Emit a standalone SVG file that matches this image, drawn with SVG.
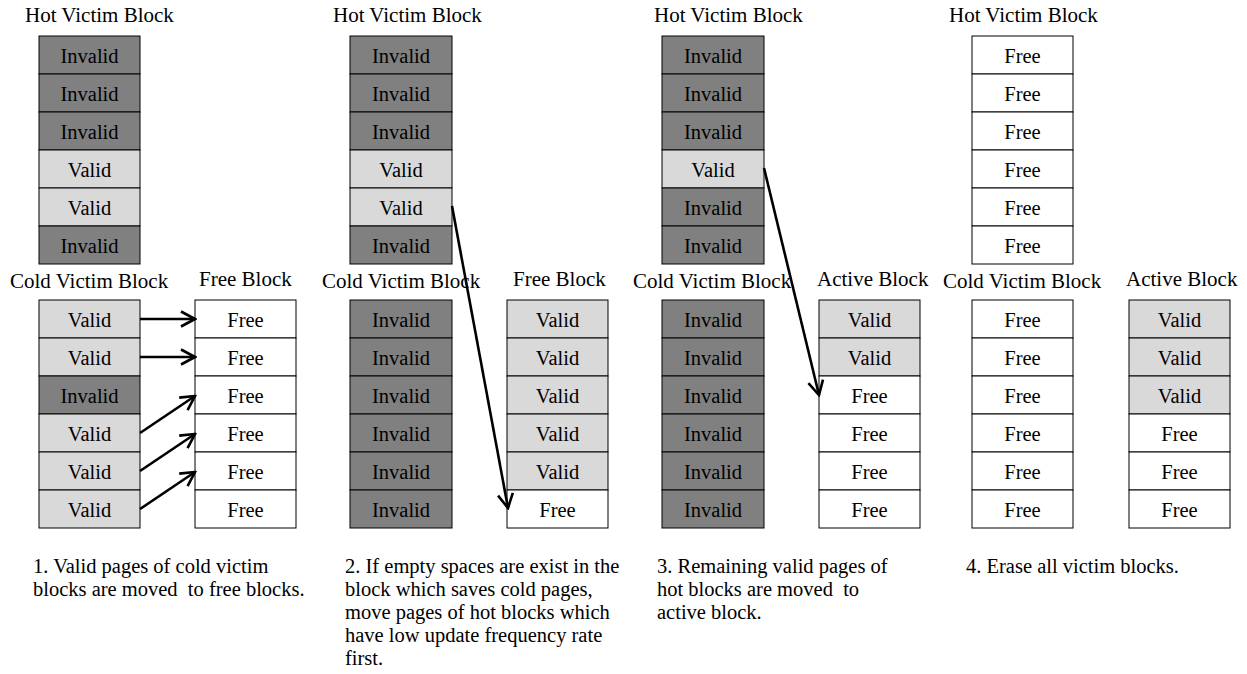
<svg xmlns="http://www.w3.org/2000/svg" width="1247" height="674" viewBox="0 0 1247 674">
<style>
  text { font-family: "Liberation Serif", "Times New Roman", serif; fill: #000; }
  .t { font-size: 21px; }
  .c { font-size: 20.5px; text-anchor: middle; }
  .p { font-size: 20.5px; white-space: pre; }
  .cell { stroke: #000; stroke-width: 1; }
  .inv { fill: #808080; }
  .val { fill: #d9d9d9; }
  .free { fill: #ffffff; }
  .arrow { stroke: #000; stroke-width: 2.6; fill: none; marker-end: url(#head); }
</style>
<defs>
  <marker id="head" viewBox="0 0 18 18" refX="16" refY="9" markerWidth="18" markerHeight="18" markerUnits="userSpaceOnUse" orient="auto">
    <path d="M2,1.5 L16,9 L2,16.5" fill="none" stroke="#000" stroke-width="2.6" stroke-linejoin="miter"/>
  </marker>
</defs>
<rect x="0" y="0" width="1247" height="674" fill="#fff"/>

<!-- Panel 1 -->
<g id="p1-hot">
  <text class="t" x="25" y="22">Hot Victim Block</text>
  <rect class="cell inv" x="39" y="36" width="101" height="38"/><text class="c" x="89.5" y="62.5">Invalid</text>
  <rect class="cell inv" x="39" y="74" width="101" height="38"/><text class="c" x="89.5" y="100.5">Invalid</text>
  <rect class="cell inv" x="39" y="112" width="101" height="38"/><text class="c" x="89.5" y="138.5">Invalid</text>
  <rect class="cell val" x="39" y="150" width="101" height="38"/><text class="c" x="89.5" y="176.5">Valid</text>
  <rect class="cell val" x="39" y="188" width="101" height="38"/><text class="c" x="89.5" y="214.5">Valid</text>
  <rect class="cell inv" x="39" y="226" width="101" height="38"/><text class="c" x="89.5" y="252.5">Invalid</text>
</g>
<g id="p1-cold">
  <text class="t" x="10" y="288">Cold Victim Block</text>
  <rect class="cell val" x="39" y="300" width="101" height="38"/><text class="c" x="89.5" y="326.5">Valid</text>
  <rect class="cell val" x="39" y="338" width="101" height="38"/><text class="c" x="89.5" y="364.5">Valid</text>
  <rect class="cell inv" x="39" y="376" width="101" height="38"/><text class="c" x="89.5" y="402.5">Invalid</text>
  <rect class="cell val" x="39" y="414" width="101" height="38"/><text class="c" x="89.5" y="440.5">Valid</text>
  <rect class="cell val" x="39" y="452" width="101" height="38"/><text class="c" x="89.5" y="478.5">Valid</text>
  <rect class="cell val" x="39" y="490" width="101" height="38"/><text class="c" x="89.5" y="516.5">Valid</text>
</g>
<g id="p1-free">
  <text class="t" x="199" y="286">Free Block</text>
  <rect class="cell free" x="195" y="300" width="101" height="38"/><text class="c" x="245.5" y="326.5">Free</text>
  <rect class="cell free" x="195" y="338" width="101" height="38"/><text class="c" x="245.5" y="364.5">Free</text>
  <rect class="cell free" x="195" y="376" width="101" height="38"/><text class="c" x="245.5" y="402.5">Free</text>
  <rect class="cell free" x="195" y="414" width="101" height="38"/><text class="c" x="245.5" y="440.5">Free</text>
  <rect class="cell free" x="195" y="452" width="101" height="38"/><text class="c" x="245.5" y="478.5">Free</text>
  <rect class="cell free" x="195" y="490" width="101" height="38"/><text class="c" x="245.5" y="516.5">Free</text>
</g>

<!-- Panel 2 -->
<g id="p2-hot">
  <text class="t" x="333" y="22">Hot Victim Block</text>
  <rect class="cell inv" x="350" y="36" width="102" height="38"/><text class="c" x="401" y="62.5">Invalid</text>
  <rect class="cell inv" x="350" y="74" width="102" height="38"/><text class="c" x="401" y="100.5">Invalid</text>
  <rect class="cell inv" x="350" y="112" width="102" height="38"/><text class="c" x="401" y="138.5">Invalid</text>
  <rect class="cell val" x="350" y="150" width="102" height="38"/><text class="c" x="401" y="176.5">Valid</text>
  <rect class="cell val" x="350" y="188" width="102" height="38"/><text class="c" x="401" y="214.5">Valid</text>
  <rect class="cell inv" x="350" y="226" width="102" height="38"/><text class="c" x="401" y="252.5">Invalid</text>
</g>
<g id="p2-cold">
  <text class="t" x="322" y="288">Cold Victim Block</text>
  <rect class="cell inv" x="350" y="300" width="102" height="38"/><text class="c" x="401" y="326.5">Invalid</text>
  <rect class="cell inv" x="350" y="338" width="102" height="38"/><text class="c" x="401" y="364.5">Invalid</text>
  <rect class="cell inv" x="350" y="376" width="102" height="38"/><text class="c" x="401" y="402.5">Invalid</text>
  <rect class="cell inv" x="350" y="414" width="102" height="38"/><text class="c" x="401" y="440.5">Invalid</text>
  <rect class="cell inv" x="350" y="452" width="102" height="38"/><text class="c" x="401" y="478.5">Invalid</text>
  <rect class="cell inv" x="350" y="490" width="102" height="38"/><text class="c" x="401" y="516.5">Invalid</text>
</g>
<g id="p2-free">
  <text class="t" x="513" y="286">Free Block</text>
  <rect class="cell val" x="507" y="300" width="101" height="38"/><text class="c" x="557.5" y="326.5">Valid</text>
  <rect class="cell val" x="507" y="338" width="101" height="38"/><text class="c" x="557.5" y="364.5">Valid</text>
  <rect class="cell val" x="507" y="376" width="101" height="38"/><text class="c" x="557.5" y="402.5">Valid</text>
  <rect class="cell val" x="507" y="414" width="101" height="38"/><text class="c" x="557.5" y="440.5">Valid</text>
  <rect class="cell val" x="507" y="452" width="101" height="38"/><text class="c" x="557.5" y="478.5">Valid</text>
  <rect class="cell free" x="507" y="490" width="101" height="38"/><text class="c" x="557.5" y="516.5">Free</text>
</g>

<!-- Panel 3 -->
<g id="p3-hot">
  <text class="t" x="654" y="22">Hot Victim Block</text>
  <rect class="cell inv" x="662" y="36" width="102" height="38"/><text class="c" x="713" y="62.5">Invalid</text>
  <rect class="cell inv" x="662" y="74" width="102" height="38"/><text class="c" x="713" y="100.5">Invalid</text>
  <rect class="cell inv" x="662" y="112" width="102" height="38"/><text class="c" x="713" y="138.5">Invalid</text>
  <rect class="cell val" x="662" y="150" width="102" height="38"/><text class="c" x="713" y="176.5">Valid</text>
  <rect class="cell inv" x="662" y="188" width="102" height="38"/><text class="c" x="713" y="214.5">Invalid</text>
  <rect class="cell inv" x="662" y="226" width="102" height="38"/><text class="c" x="713" y="252.5">Invalid</text>
</g>
<g id="p3-cold">
  <text class="t" x="633" y="288">Cold Victim Block</text>
  <rect class="cell inv" x="662" y="300" width="102" height="38"/><text class="c" x="713" y="326.5">Invalid</text>
  <rect class="cell inv" x="662" y="338" width="102" height="38"/><text class="c" x="713" y="364.5">Invalid</text>
  <rect class="cell inv" x="662" y="376" width="102" height="38"/><text class="c" x="713" y="402.5">Invalid</text>
  <rect class="cell inv" x="662" y="414" width="102" height="38"/><text class="c" x="713" y="440.5">Invalid</text>
  <rect class="cell inv" x="662" y="452" width="102" height="38"/><text class="c" x="713" y="478.5">Invalid</text>
  <rect class="cell inv" x="662" y="490" width="102" height="38"/><text class="c" x="713" y="516.5">Invalid</text>
</g>
<g id="p3-active">
  <text class="t" x="817" y="286">Active Block</text>
  <rect class="cell val" x="819" y="300" width="101" height="38"/><text class="c" x="869.5" y="326.5">Valid</text>
  <rect class="cell val" x="819" y="338" width="101" height="38"/><text class="c" x="869.5" y="364.5">Valid</text>
  <rect class="cell free" x="819" y="376" width="101" height="38"/><text class="c" x="869.5" y="402.5">Free</text>
  <rect class="cell free" x="819" y="414" width="101" height="38"/><text class="c" x="869.5" y="440.5">Free</text>
  <rect class="cell free" x="819" y="452" width="101" height="38"/><text class="c" x="869.5" y="478.5">Free</text>
  <rect class="cell free" x="819" y="490" width="101" height="38"/><text class="c" x="869.5" y="516.5">Free</text>
</g>

<!-- Panel 4 -->
<g id="p4-hot">
  <text class="t" x="949" y="22">Hot Victim Block</text>
  <rect class="cell free" x="972" y="36" width="101" height="38"/><text class="c" x="1022.5" y="62.5">Free</text>
  <rect class="cell free" x="972" y="74" width="101" height="38"/><text class="c" x="1022.5" y="100.5">Free</text>
  <rect class="cell free" x="972" y="112" width="101" height="38"/><text class="c" x="1022.5" y="138.5">Free</text>
  <rect class="cell free" x="972" y="150" width="101" height="38"/><text class="c" x="1022.5" y="176.5">Free</text>
  <rect class="cell free" x="972" y="188" width="101" height="38"/><text class="c" x="1022.5" y="214.5">Free</text>
  <rect class="cell free" x="972" y="226" width="101" height="38"/><text class="c" x="1022.5" y="252.5">Free</text>
</g>
<g id="p4-cold">
  <text class="t" x="943" y="288">Cold Victim Block</text>
  <rect class="cell free" x="972" y="300" width="101" height="38"/><text class="c" x="1022.5" y="326.5">Free</text>
  <rect class="cell free" x="972" y="338" width="101" height="38"/><text class="c" x="1022.5" y="364.5">Free</text>
  <rect class="cell free" x="972" y="376" width="101" height="38"/><text class="c" x="1022.5" y="402.5">Free</text>
  <rect class="cell free" x="972" y="414" width="101" height="38"/><text class="c" x="1022.5" y="440.5">Free</text>
  <rect class="cell free" x="972" y="452" width="101" height="38"/><text class="c" x="1022.5" y="478.5">Free</text>
  <rect class="cell free" x="972" y="490" width="101" height="38"/><text class="c" x="1022.5" y="516.5">Free</text>
</g>
<g id="p4-active">
  <text class="t" x="1126" y="286">Active Block</text>
  <rect class="cell val" x="1129" y="300" width="101" height="38"/><text class="c" x="1179.5" y="326.5">Valid</text>
  <rect class="cell val" x="1129" y="338" width="101" height="38"/><text class="c" x="1179.5" y="364.5">Valid</text>
  <rect class="cell val" x="1129" y="376" width="101" height="38"/><text class="c" x="1179.5" y="402.5">Valid</text>
  <rect class="cell free" x="1129" y="414" width="101" height="38"/><text class="c" x="1179.5" y="440.5">Free</text>
  <rect class="cell free" x="1129" y="452" width="101" height="38"/><text class="c" x="1179.5" y="478.5">Free</text>
  <rect class="cell free" x="1129" y="490" width="101" height="38"/><text class="c" x="1179.5" y="516.5">Free</text>
</g>

<!-- Connectors -->
<g id="connectors">
  <line class="arrow" x1="140" y1="319" x2="195" y2="319"/>
  <line class="arrow" x1="140" y1="357" x2="195" y2="357"/>
  <line class="arrow" x1="140" y1="433" x2="195" y2="396"/>
  <line class="arrow" x1="140" y1="471" x2="195" y2="434"/>
  <line class="arrow" x1="140" y1="509" x2="195" y2="472"/>
  <line class="arrow" x1="452" y1="206" x2="508" y2="508"/>
  <line class="arrow" x1="764" y1="168" x2="819" y2="395"/>
</g>

<!-- Captions -->
<g id="captions">
  <text class="p" x="33" y="573">1. Valid pages of cold victim</text>
  <text class="p" x="33" y="596">blocks are moved  to free blocks.</text>
  <text class="p" x="345" y="573">2. If empty spaces are exist in the</text>
  <text class="p" x="345" y="596">block which saves cold pages,</text>
  <text class="p" x="345" y="619">move pages of hot blocks which</text>
  <text class="p" x="345" y="642">have low update frequency rate</text>
  <text class="p" x="345" y="665">first.</text>
  <text class="p" x="657" y="573">3. Remaining valid pages of</text>
  <text class="p" x="657" y="596">hot blocks are moved  to</text>
  <text class="p" x="657" y="619">active block.</text>
  <text class="p" x="966" y="573">4. Erase all victim blocks.</text>
</g>
</svg>
